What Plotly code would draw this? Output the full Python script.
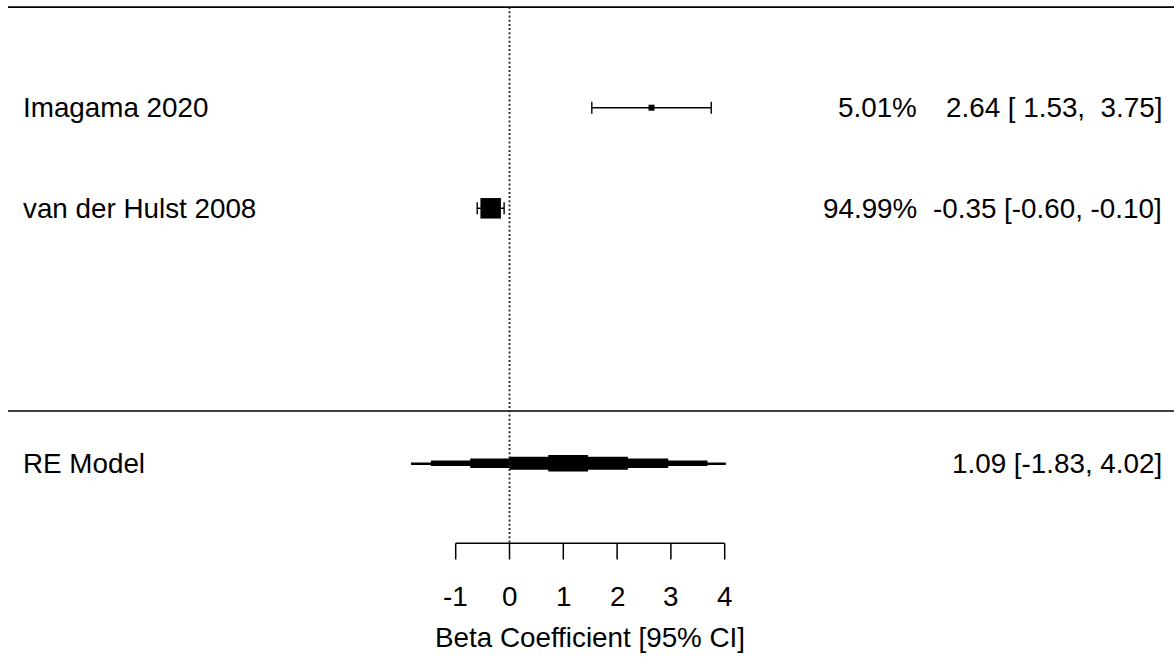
import plotly.graph_objects as go

# ---------------- data ----------------
studies = ["Imagama 2020", "van der Hulst 2008"]
estimates = [2.64, -0.35]
ci_lower = [1.53, -0.60]
ci_upper = [3.75, -0.10]
weights = [5.01, 94.99]

re_label = "RE Model"
re_estimate = 1.09
re_lower = -1.83
re_upper = 4.02
# nested interval bounds of the RE summary band (outer -> inner)
re_band_lower = [-1.83, -1.46, -0.73, 0.00, 0.72]
re_band_upper = [4.02, 3.68, 2.95, 2.20, 1.46]

tick_values = [-1, 0, 1, 2, 3, 4]
tick_labels = ["-1", "0", "1", "2", "3", "4"]
x_title = "Beta Coefficient [95% CI]"

# ---------------- layout helpers ----------------
W, H = 1174, 664
PX_PER_UNIT = 53.8
X0_PX = 509.5
ROW1_PX = 208.3
ROW_STEP = 100.6
FONT = "Liberation Sans, Arial, sans-serif"
FS = 27.8
NB = "\u00a0"


def xdat(px):
    return (px - X0_PX) / PX_PER_UNIT


def row_of(px):
    return 1 - (px - ROW1_PX) / ROW_STEP


k = len(studies)
study_rows = list(range(k, 0, -1))
top_row = k + 1
sep_row = row_of(411)
re_row = row_of(463.3)
axis_row = row_of(543.3)
tick_end_row = row_of(559.5)
ticklab_row = row_of(596)
title_row = row_of(637)

band_px = [1.6, 5.5, 9.5, 13.0, 16.5]

wmin, wmax = min(weights), max(weights)
sizes = [6 + (w - wmin) / (wmax - wmin) * 14.5 for w in weights]

fig = go.Figure()

# RE summary band
fig.add_trace(go.Bar(
    orientation="h",
    y=[re_row] * len(re_band_lower),
    base=re_band_lower,
    x=[u - l for l, u in zip(re_band_lower, re_band_upper)],
    width=[t / ROW_STEP for t in band_px],
    marker=dict(color="black", line=dict(width=0)),
    hoverinfo="skip",
    showlegend=False,
))

# study estimates with CIs
fig.add_trace(go.Scatter(
    x=estimates,
    y=study_rows,
    mode="markers",
    marker=dict(symbol="square", size=sizes, color="black", opacity=1, line=dict(width=0)),
    error_x=dict(
        type="data", symmetric=False,
        array=[u - e for e, u in zip(estimates, ci_upper)],
        arrayminus=[e - l for e, l in zip(estimates, ci_lower)],
        width=6, thickness=1.4, color="black",
    ),
    hoverinfo="skip",
    showlegend=False,
))

shapes = []
# top & separator lines
shapes.append(dict(type="line", xref="x", yref="y", x0=xdat(8), x1=xdat(W), y0=top_row, y1=top_row,
                   line=dict(color="black", width=1.6)))
shapes.append(dict(type="line", xref="x", yref="y", x0=xdat(8), x1=xdat(W), y0=sep_row, y1=sep_row,
                   line=dict(color="black", width=1.6)))
# dotted reference line at 0
shapes.append(dict(type="line", xref="x", yref="y", x0=0, x1=0, y0=top_row, y1=axis_row,
                   line=dict(color="#222222", width=1.8, dash="2px,2.2px")))
# axis
shapes.append(dict(type="line", xref="x", yref="y", x0=tick_values[0], x1=tick_values[-1],
                   y0=axis_row, y1=axis_row, line=dict(color="black", width=1.5)))
for tv in tick_values:
    shapes.append(dict(type="line", xref="x", yref="y", x0=tv, x1=tv, y0=axis_row, y1=tick_end_row,
                       line=dict(color="black", width=1.5)))

annotations = []
tf = dict(family=FONT, size=FS, color="black")


def ann(x, y, text, xanchor):
    annotations.append(dict(x=x, y=y, xref="x", yref="y", text=text, showarrow=False,
                            xanchor=xanchor, yanchor="middle", font=tf, borderpad=0))


for name, r, e, lo, hi, w in zip(studies, study_rows, estimates, ci_lower, ci_upper, weights):
    ann(xdat(22), r, name, "left")
    ann(xdat(918), r, f"{w:.2f}%", "right")
    s = f"{e:.2f} [{lo:5.2f}, {hi:5.2f}]".replace(" ", NB)
    ann(xdat(1163), r, s, "right")

ann(xdat(22), re_row, re_label, "left")
ann(xdat(1163), re_row, f"{re_estimate:.2f} [{re_lower:.2f}, {re_upper:.2f}]".replace(" ", NB), "right")

for tv, tl in zip(tick_values, tick_labels):
    ann(tv, ticklab_row, tl, "center")
ann((tick_values[0] + tick_values[-1]) / 2, title_row, x_title, "center")

fig.update_layout(
    width=W, height=H, autosize=False,
    margin=dict(l=0, r=0, t=0, b=0, pad=0),
    paper_bgcolor="white", plot_bgcolor="white",
    barmode="overlay",
    xaxis=dict(range=[xdat(0), xdat(W)], visible=False, fixedrange=True),
    yaxis=dict(range=[row_of(H), row_of(0)], visible=False, fixedrange=True),
    shapes=shapes,
    annotations=annotations,
    showlegend=False,
)

fig.write_html(
    "out.html",
    config={"displayModeBar": False},
    post_script="document.body.style.margin='0';document.body.style.overflow='hidden';",
)
